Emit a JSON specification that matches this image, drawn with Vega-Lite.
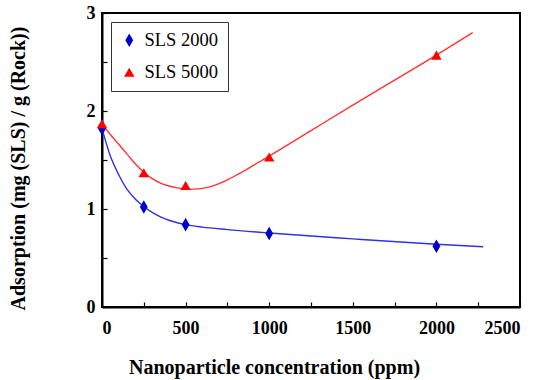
{
  "$schema": "https://vega.github.io/schema/vega-lite/v6.json",
  "width": 418,
  "height": 294,
  "autosize": {"type": "none"},
  "padding": {"left": 102, "top": 13, "right": 16, "bottom": 73},
  "background": "white",
  "config": {
    "font": "Liberation Serif",
    "view": {"stroke": "black", "strokeWidth": 2},
    "axis": {
      "labelFont": "Liberation Serif",
      "labelFontWeight": "bold",
      "labelFontSize": 18,
      "labelColor": "black",
      "titleFont": "Liberation Serif",
      "titleFontWeight": "bold",
      "titleFontSize": 20,
      "titleColor": "black",
      "domainColor": "black",
      "domainWidth": 2,
      "tickColor": "black",
      "tickWidth": 1.2,
      "tickSize": -5,
      "grid": false
    }
  },
  "datasets": {
    "pts": [
      {"series": "SLS 2000", "conc": 0, "ads": 1.82},
      {"series": "SLS 2000", "conc": 250, "ads": 1.02},
      {"series": "SLS 2000", "conc": 500, "ads": 0.84},
      {"series": "SLS 2000", "conc": 1000, "ads": 0.75},
      {"series": "SLS 2000", "conc": 2000, "ads": 0.62},
      {"series": "SLS 5000", "conc": 0, "ads": 1.87},
      {"series": "SLS 5000", "conc": 250, "ads": 1.37},
      {"series": "SLS 5000", "conc": 500, "ads": 1.24},
      {"series": "SLS 5000", "conc": 1000, "ads": 1.53},
      {"series": "SLS 5000", "conc": 2000, "ads": 2.57}
    ],
    "curve": [
      {"fit": "SLS 2000 fit", "conc": 0, "ads": 1.82},
      {"fit": "SLS 2000 fit", "conc": 50, "ads": 1.54},
      {"fit": "SLS 2000 fit", "conc": 100, "ads": 1.35},
      {"fit": "SLS 2000 fit", "conc": 150, "ads": 1.2},
      {"fit": "SLS 2000 fit", "conc": 200, "ads": 1.1},
      {"fit": "SLS 2000 fit", "conc": 250, "ads": 1.025},
      {"fit": "SLS 2000 fit", "conc": 300, "ads": 0.965},
      {"fit": "SLS 2000 fit", "conc": 350, "ads": 0.92},
      {"fit": "SLS 2000 fit", "conc": 400, "ads": 0.885},
      {"fit": "SLS 2000 fit", "conc": 450, "ads": 0.86},
      {"fit": "SLS 2000 fit", "conc": 500, "ads": 0.84},
      {"fit": "SLS 2000 fit", "conc": 600, "ads": 0.815},
      {"fit": "SLS 2000 fit", "conc": 750, "ads": 0.79},
      {"fit": "SLS 2000 fit", "conc": 1000, "ads": 0.755},
      {"fit": "SLS 2000 fit", "conc": 1500, "ads": 0.695},
      {"fit": "SLS 2000 fit", "conc": 2000, "ads": 0.64},
      {"fit": "SLS 2000 fit", "conc": 2280, "ads": 0.615},
      {"fit": "SLS 5000 fit", "conc": 0, "ads": 1.87},
      {"fit": "SLS 5000 fit", "conc": 50, "ads": 1.76},
      {"fit": "SLS 5000 fit", "conc": 100, "ads": 1.66},
      {"fit": "SLS 5000 fit", "conc": 150, "ads": 1.56},
      {"fit": "SLS 5000 fit", "conc": 200, "ads": 1.46},
      {"fit": "SLS 5000 fit", "conc": 250, "ads": 1.375},
      {"fit": "SLS 5000 fit", "conc": 300, "ads": 1.31},
      {"fit": "SLS 5000 fit", "conc": 350, "ads": 1.265},
      {"fit": "SLS 5000 fit", "conc": 400, "ads": 1.235},
      {"fit": "SLS 5000 fit", "conc": 450, "ads": 1.215},
      {"fit": "SLS 5000 fit", "conc": 500, "ads": 1.205},
      {"fit": "SLS 5000 fit", "conc": 550, "ads": 1.203},
      {"fit": "SLS 5000 fit", "conc": 600, "ads": 1.21},
      {"fit": "SLS 5000 fit", "conc": 650, "ads": 1.228},
      {"fit": "SLS 5000 fit", "conc": 700, "ads": 1.258},
      {"fit": "SLS 5000 fit", "conc": 750, "ads": 1.297},
      {"fit": "SLS 5000 fit", "conc": 800, "ads": 1.342},
      {"fit": "SLS 5000 fit", "conc": 850, "ads": 1.39},
      {"fit": "SLS 5000 fit", "conc": 900, "ads": 1.44},
      {"fit": "SLS 5000 fit", "conc": 950, "ads": 1.49},
      {"fit": "SLS 5000 fit", "conc": 1000, "ads": 1.54},
      {"fit": "SLS 5000 fit", "conc": 1250, "ads": 1.8},
      {"fit": "SLS 5000 fit", "conc": 1500, "ads": 2.06},
      {"fit": "SLS 5000 fit", "conc": 1750, "ads": 2.315},
      {"fit": "SLS 5000 fit", "conc": 2000, "ads": 2.57},
      {"fit": "SLS 5000 fit", "conc": 2217, "ads": 2.8}
    ]
  },
  "encoding": {
    "x": {
      "field": "conc",
      "type": "quantitative",
      "scale": {"domain": [0, 2500], "nice": false},
      "axis": {
        "title": "Nanoparticle concentration (ppm)",
        "values": [0, 250, 500, 750, 1000, 1250, 1500, 1750, 2000, 2250, 2500],
        "labelExpr": "datum.value % 500 === 0 ? format(datum.value, 'd') : ''",
        "labelPadding": 17,
        "titleX": 172,
        "titleY": 60,
        "titleBaseline": "middle",
        "titleAlign": "center"
      }
    },
    "y": {
      "field": "ads",
      "type": "quantitative",
      "scale": {"domain": [0, 3], "nice": false},
      "axis": {
        "title": "Adsorption (mg (SLS) / g (Rock))",
        "values": [0, 0.5, 1, 1.5, 2, 2.5, 3],
        "labelExpr": "datum.value % 1 === 0 ? format(datum.value, 'd') : ''",
        "labelPadding": 12,
        "titleX": -84,
        "titleY": 155,
        "titleBaseline": "middle",
        "titleAlign": "center",
        "titleAngle": -90
      }
    }
  },
  "layer": [
    {
      "data": {"name": "curve"},
      "mark": {"type": "line", "interpolate": "monotone", "strokeWidth": 1.4},
      "encoding": {
        "stroke": {
          "field": "fit",
          "type": "nominal",
          "scale": {"domain": ["SLS 2000 fit", "SLS 5000 fit"], "range": ["#3030e8", "#ff3333"]},
          "legend": null
        }
      }
    },
    {
      "data": {"name": "pts"},
      "mark": {"type": "point", "filled": true, "opacity": 1, "size": 110},
      "encoding": {
        "color": {
          "field": "series",
          "type": "nominal",
          "scale": {"domain": ["SLS 2000", "SLS 5000"], "range": ["#0000cc", "#ff0000"]},
          "legend": {
            "title": null,
            "orient": "none",
            "legendX": 9,
            "legendY": 9,
            "strokeColor": "#333333",
            "fillColor": "white",
            "padding": 9,
            "labelFont": "Liberation Serif",
            "labelFontSize": 18.5,
            "labelColor": "black",
            "labelOffset": 6,
            "rowPadding": 13,
            "symbolSize": 110,
            "labelExpr": "datum.label + '   '"
          }
        },
        "shape": {
          "field": "series",
          "type": "nominal",
          "scale": {"domain": ["SLS 2000", "SLS 5000"], "range": ["M0,-1.3L0.75,0L0,1.3L-0.75,0Z", "triangle-up"]},
          "legend": {
            "title": null,
            "orient": "none",
            "legendX": 9,
            "legendY": 9,
            "strokeColor": "#333333",
            "fillColor": "white",
            "padding": 9,
            "labelFont": "Liberation Serif",
            "labelFontSize": 18.5,
            "labelColor": "black",
            "labelOffset": 6,
            "rowPadding": 13,
            "symbolSize": 110,
            "labelExpr": "datum.label + '   '"
          }
        }
      }
    }
  ]
}
